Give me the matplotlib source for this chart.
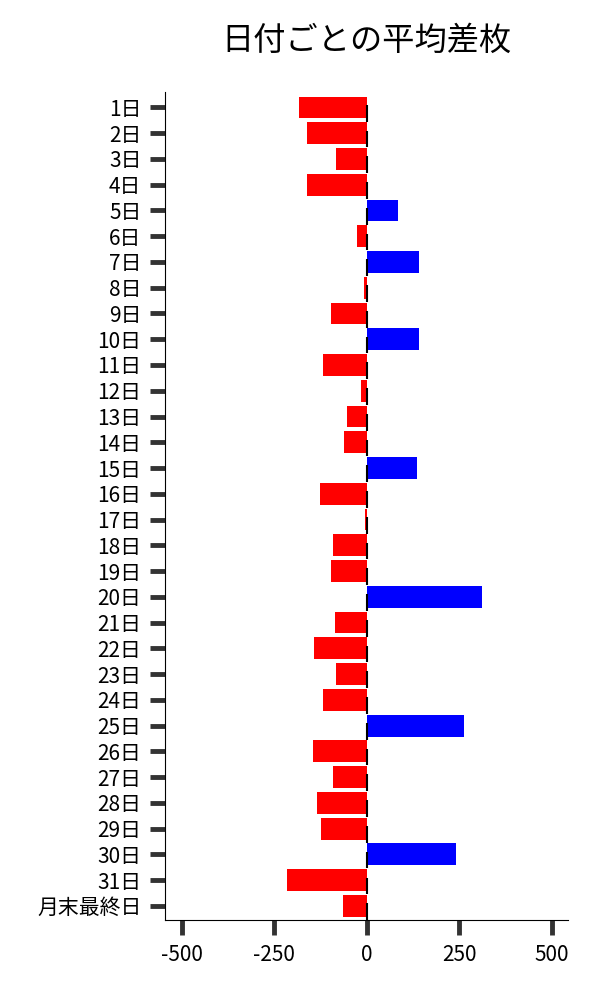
import numpy as np
import matplotlib
matplotlib.use("Agg")
import matplotlib.pyplot as plt

plt.rcParams['font.family'] = ['Noto Sans CJK JP', 'DejaVu Sans']
plt.rcParams['axes.unicode_minus'] = False

days = [f"{i}日" for i in range(1, 32)] + ["月末最終日"]
avg_diff = [-184, -160, -84, -162, 84, -27, 143, -8, -97, 143,
            -119, -14, -54, -62, 135, -127, -3, -92, -95, 311,
            -86, -143, -84, -119, 262, -146, -92, -135, -122, 243,
            -214, -65]
x_ticks = [-500, -250, 0, 250, 500]

vals = np.array(avg_diff)
ypos = np.arange(len(days))
colors = ['#0000ff' if v > 0 else '#ff0000' for v in vals]

fig = plt.figure(figsize=(6, 10), dpi=100)
ax = fig.add_axes([0.275, 0.08, 0.672, 0.828])

ax.barh(ypos, vals, height=0.85, color=colors)
ax.vlines(np.zeros(len(ypos)), ypos - 0.1, ypos + 0.55, color='black', lw=1.5)

ax.set_yticks(ypos)
ax.set_yticklabels(days, fontsize=15)
ax.set_xticks(x_ticks)
ax.set_xticklabels([str(t) for t in x_ticks], fontsize=15)
ax.set_xlim(-545, 545)
ax.set_ylim(31.55, -0.6)

ax.spines['top'].set_visible(False)
ax.spines['right'].set_visible(False)
ax.tick_params(axis='both', length=11, width=3.5, color='#333333', pad=6)

ax.set_title("日付ごとの平均差枚", fontsize=23.2, pad=30)

fig.savefig("out.png", dpi=100)
